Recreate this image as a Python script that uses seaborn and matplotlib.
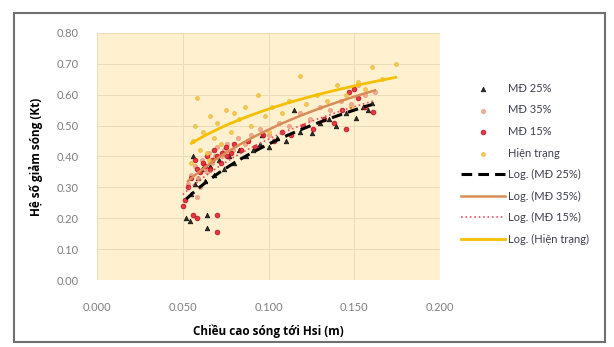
import numpy as np
import pandas as pd
import matplotlib
matplotlib.use("Agg")
import matplotlib.pyplot as plt
import seaborn as sns
from matplotlib.patches import Rectangle

# dữ liệu
md25_x = [0.052, 0.054, 0.064, 0.064, 0.055, 0.057, 0.056, 0.059, 0.061, 0.063, 0.066, 0.068,
          0.071, 0.074, 0.077, 0.080, 0.083, 0.087, 0.091, 0.095, 0.096, 0.100, 0.105, 0.110,
          0.115, 0.118, 0.125, 0.130, 0.135, 0.139, 0.145, 0.151, 0.155, 0.160, 0.158]
md25_y = [0.20, 0.19, 0.17, 0.21, 0.28, 0.31, 0.40, 0.33, 0.36, 0.32, 0.37, 0.34,
          0.39, 0.36, 0.40, 0.38, 0.42, 0.40, 0.42, 0.44, 0.47, 0.43, 0.46, 0.45,
          0.55, 0.48, 0.475, 0.51, 0.52, 0.50, 0.54, 0.524, 0.56, 0.573, 0.55]

md35_x = [0.053, 0.055, 0.057, 0.059, 0.061, 0.063, 0.065, 0.067, 0.070, 0.073, 0.076, 0.079,
          0.082, 0.086, 0.090, 0.095, 0.100, 0.106, 0.112, 0.118, 0.124, 0.130, 0.136, 0.142,
          0.148, 0.152, 0.156, 0.162, 0.060, 0.058, 0.064, 0.069, 0.074]
md35_y = [0.31, 0.34, 0.37, 0.33, 0.39, 0.36, 0.41, 0.38, 0.43, 0.40, 0.44, 0.42,
          0.46, 0.44, 0.47, 0.49, 0.47, 0.51, 0.50, 0.54, 0.52, 0.56, 0.55, 0.58,
          0.57, 0.63, 0.60, 0.61, 0.30, 0.27, 0.35, 0.40, 0.42]

md15_x = [0.050, 0.051, 0.056, 0.058, 0.070, 0.070, 0.053, 0.055, 0.057, 0.058, 0.060, 0.062,
          0.064, 0.066, 0.068, 0.070, 0.072, 0.075, 0.078, 0.080, 0.084, 0.088, 0.092, 0.097,
          0.103, 0.108, 0.113, 0.120, 0.126, 0.132, 0.138, 0.143, 0.147, 0.150, 0.152, 0.156,
          0.161, 0.145, 0.063, 0.067, 0.073, 0.076]
md15_y = [0.24, 0.26, 0.21, 0.20, 0.155, 0.21, 0.30, 0.33, 0.39, 0.36, 0.35, 0.38,
          0.40, 0.36, 0.42, 0.40, 0.38, 0.43, 0.41, 0.44, 0.42, 0.45, 0.43, 0.47,
          0.45, 0.48, 0.47, 0.50, 0.49, 0.52, 0.51, 0.55, 0.61, 0.62, 0.59, 0.56,
          0.545, 0.49, 0.37, 0.39, 0.41, 0.40]

ht_x = [0.055, 0.056, 0.057, 0.058, 0.060, 0.062, 0.064, 0.066, 0.068, 0.070, 0.072, 0.075,
        0.078, 0.080, 0.083, 0.086, 0.090, 0.094, 0.098, 0.102, 0.108, 0.112, 0.118, 0.122,
        0.128, 0.134, 0.140, 0.145, 0.152, 0.156, 0.160, 0.166, 0.174, 0.148, 0.100, 0.065]
ht_y = [0.38, 0.45, 0.50, 0.59, 0.42, 0.48, 0.41, 0.53, 0.46, 0.51, 0.44, 0.55,
        0.48, 0.54, 0.52, 0.56, 0.50, 0.60, 0.53, 0.56, 0.54, 0.58, 0.66, 0.57,
        0.60, 0.58, 0.63, 0.60, 0.64, 0.62, 0.69, 0.65, 0.70, 0.56, 0.48, 0.39]

series = ["MĐ 25%", "MĐ 35%", "MĐ 15%", "Hiện trạng"]
xs = [md25_x, md35_x, md15_x, ht_x]
ys = [md25_y, md35_y, md15_y, ht_y]

df = pd.concat([pd.DataFrame({"x": x, "y": y, "series": s}) for s, x, y in zip(series, xs, ys)],
               ignore_index=True)

marker_colors = {"MĐ 25%": "#1a1a1a", "MĐ 35%": "#F2A38A", "MĐ 15%": "#E8202A", "Hiện trạng": "#F2C447"}
marker_edges = {"MĐ 25%": "#000000", "MĐ 35%": "#E8927A", "MĐ 15%": "#A0102A", "Hiện trạng": "#E9B832"}
markers = {"MĐ 25%": "^", "MĐ 35%": "o", "MĐ 15%": "o", "Hiện trạng": "o"}
sizes = {"MĐ 25%": 11, "MĐ 35%": 9, "MĐ 15%": 12, "Hiện trạng": 8}
line_styles = {
    "MĐ 25%": dict(color="black", lw=2.2, ls=(0, (3.5, 2))),
    "MĐ 35%": dict(color="#D98C55", lw=1.8, ls="-"),
    "MĐ 15%": dict(color="#E8506A", lw=1.2, ls=":"),
    "Hiện trạng": dict(color="#F5C000", lw=2.0, ls="-"),
}

fig = plt.figure(figsize=(6.14, 3.47), dpi=100)
ax = fig.add_axes([0.158, 0.193, 0.559, 0.712])
ax.set_facecolor("#FFF1CF")

for s in series:
    sub = df[df["series"] == s]
    sns.scatterplot(data=sub, x="x", y="y", ax=ax, color=marker_colors[s], marker=markers[s],
                    edgecolor=marker_edges[s], linewidth=0.5, s=sizes[s], alpha=0.9, label=s, zorder=3)

# đường xu hướng logarit giống Excel
for s, x, y in zip(series, xs, ys):
    x = np.array(x)
    a, b = np.polyfit(np.log(x), np.array(y), 1)
    xx = np.linspace(x.min(), x.max(), 100)
    ax.plot(xx, a * np.log(xx) + b, label=f"Log. ({s})", zorder=4, **line_styles[s])

ax.set_xlim(0, 0.2)
ax.set_ylim(0, 0.8)
ax.set_xticks(np.arange(0, 0.201, 0.05))
ax.set_yticks(np.arange(0, 0.801, 0.1))
ax.xaxis.set_major_formatter(matplotlib.ticker.FormatStrFormatter("%.3f"))
ax.yaxis.set_major_formatter(matplotlib.ticker.FormatStrFormatter("%.2f"))
ax.grid(True, color="#EADCB6", lw=0.7)
ax.set_axisbelow(True)
for sp in ax.spines.values():
    sp.set_visible(False)
ax.tick_params(length=0, labelsize=8, labelcolor="#7f7f7f")
ax.tick_params(axis="x", pad=16)
ax.tick_params(axis="y", pad=13)
for t in ax.get_xticklabels() + ax.get_yticklabels():
    t.set_family(["Lato", "DejaVu Sans"])

ax.set_xlabel("Chiều cao sóng tới Hsi (m)", fontsize=8.5, fontweight="bold",
              family=["Open Sans", "DejaVu Sans"], labelpad=8)
ax.set_ylabel("Hệ số giảm sóng (Kt)", fontsize=8.5, fontweight="bold",
              family=["Open Sans", "DejaVu Sans"], labelpad=10)

h, l = ax.get_legend_handles_labels()
ax.get_legend().remove()
order = series + [f"Log. ({s})" for s in series]
hd = dict(zip(l, h))
leg = fig.legend([hd[k] for k in order], order, loc="upper left", bbox_to_anchor=(0.735, 0.79),
                 frameon=False, labelspacing=0.95, handlelength=3.9,
                 handletextpad=0.3, prop={"family": ["Lato", "DejaVu Sans"], "size": 8})
for t in leg.get_texts():
    t.set_color("#404050")

fig.add_artist(Rectangle((0.0228, 0.0144), 0.962, 0.948, transform=fig.transFigure,
                         fill=False, edgecolor="#707070", lw=1.5))

fig.savefig("out.png", dpi=100)
